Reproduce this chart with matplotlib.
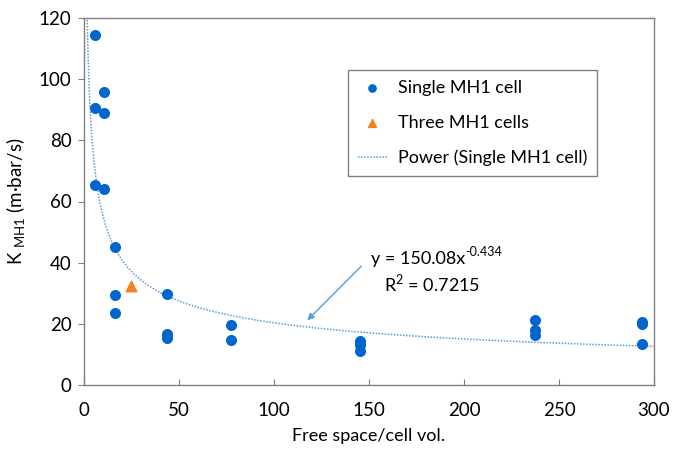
import numpy as np
import matplotlib.pyplot as plt

plt.rcParams['font.family'] = ['Lato', 'DejaVu Sans']
plt.rcParams['mathtext.fontset'] = 'custom'
plt.rcParams['mathtext.rm'] = 'Lato'

# measured K for a single MH1 cell
single_x = [5.8, 5.8, 5.8, 10.5, 10.5, 10.5,
            16.3, 16.3, 16.3, 43.7, 43.7, 43.7,
            77.5, 77.5, 145, 145, 145,
            237.5, 237.5, 237.5, 293.5, 293.5, 293.5]
single_y = [114.5, 90.6, 65.4, 95.8, 88.8, 64.2,
            45.2, 29.4, 23.5, 29.8, 16.6, 15.3,
            19.7, 14.8, 14.3, 13.2, 11.0,
            21.4, 18.0, 16.3, 20.6, 19.8, 13.5]

# three cells stacked
three_x = [24.8]
three_y = [32.3]

# power trendline y = a * x^b
coef_a = 150.08
coef_b = -0.434
r2 = 0.7215

fig = plt.figure(figsize=(6.73, 4.49), dpi=100)
ax = fig.add_axes([84 / 673, 1 - 385 / 449, 570 / 673, 367 / 449])

xs = np.linspace(1.6, 300, 600)
ax.plot(xs, coef_a * xs ** coef_b, ls=(0, (1, 1)), color='#5B9BD5', lw=1.1,
        label='Power (Single MH1 cell)', zorder=2)
ax.scatter(single_x, single_y, s=48, color='#0066CC', label='Single MH1 cell', zorder=3)
ax.scatter(three_x, three_y, s=58, marker='^', color='#F58220', label='Three MH1 cells', zorder=3)

ax.set_xlim(0, 300)
ax.set_ylim(0, 120)
ax.set_xticks(np.arange(0, 301, 50))
ax.set_yticks(np.arange(0, 121, 20))
ax.tick_params(axis='x', direction='in', length=4, color='#808080', labelsize=13.5, pad=12)
ax.tick_params(axis='y', direction='out', length=4, color='#808080', labelsize=13.5, pad=5)
for sp in ax.spines.values():
    sp.set_color('#808080')
    sp.set_linewidth(1.0)

ax.set_xlabel('Free space/cell vol.', fontsize=13, labelpad=7)
ax.set_ylabel(r'K $_{\mathregular{MH1}}$ (m·bar/s)', fontsize=13.5, labelpad=8)

handles, labels = ax.get_legend_handles_labels()
order = [1, 2, 0]
leg = ax.legend([handles[i] for i in order], [labels[i] for i in order],
                loc='upper left', bbox_to_anchor=(264 / 570, 1 - 52 / 367),
                fontsize=13, frameon=True, fancybox=False, edgecolor='#606060',
                handlelength=1.6, handletextpad=0.6, borderpad=0.55, labelspacing=1.05,
                markerscale=0.75, borderaxespad=0)
leg.get_frame().set_linewidth(1.0)

ax.annotate('', xy=(116.5, 20.5), xytext=(147, 39.5),
            arrowprops=dict(arrowstyle='-|>', color='#5B9BD5', lw=1.0, mutation_scale=10))
eq = ax.text(176, 41.3, 'y = 150.08x', fontsize=13, ha='center', va='center')
ax.annotate('%.3f' % coef_b, xy=(1, 0.55), xycoords=eq, fontsize=9, ha='left', va='bottom')
ax.text(183, 33.3, r'R$^{\mathregular{2}}$ = %.4f' % r2, fontsize=13, ha='center', va='center')

fig.savefig('out.png', dpi=100)
